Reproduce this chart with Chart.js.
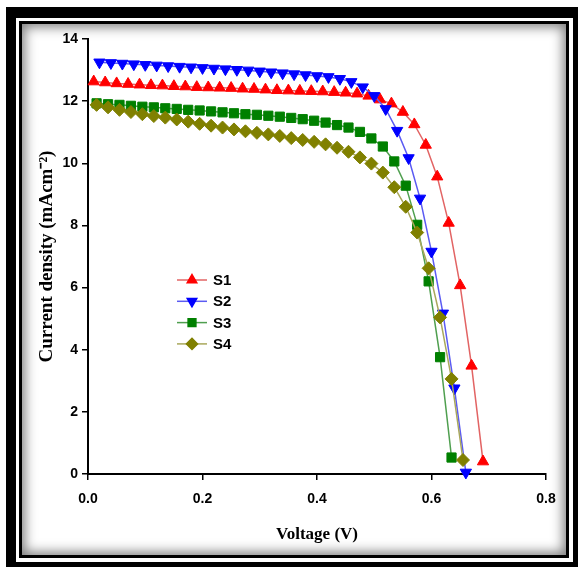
<!DOCTYPE html>
<html>
<head>
<meta charset="utf-8">
<script src="https://cdn.jsdelivr.net/npm/chart.js@4/dist/chart.umd.min.js"></script>
<style>
    html, body { margin: 0; padding: 0; background: #fff; }
    #outer {
        position: absolute; left: 6px; top: 7px; width: 572px; height: 560px;
        box-sizing: border-box; background: #fff;
        border-style: solid; border-color: #000; border-width: 11px 5px 5px 10px;
    }
    #inner {
        position: absolute; left: 3px; top: 3px; right: 4px; bottom: 4px;
        border: 3px solid #000;
        box-shadow: inset 0 0 12px 3px rgba(0, 0, 0, 0.5);
    }
    #chartJV { position: absolute; left: 0; top: 0; }
</style>
</head>
<body>
<div id="outer"><div id="inner"></div></div>
<canvas id="chartJV" width="578" height="567"></canvas>
<script>
// valores (V en voltios, J en mA/cm2)
const nombres = ['S1', 'S2', 'S3', 'S4'];

const s1V = [0.01, 0.03, 0.05, 0.07, 0.09, 0.11, 0.13, 0.15, 0.17, 0.19, 0.21, 0.23, 0.25, 0.27, 0.29, 0.31, 0.33, 0.35,
    0.37, 0.39, 0.41, 0.43, 0.45, 0.47, 0.49, 0.51, 0.53, 0.55, 0.57, 0.59, 0.61, 0.63, 0.65, 0.67, 0.69];
const s1J = [12.63, 12.60, 12.57, 12.55, 12.53, 12.51, 12.50, 12.48, 12.47, 12.45, 12.44, 12.43, 12.42, 12.40, 12.39,
    12.37, 12.35, 12.34, 12.33, 12.32, 12.31, 12.29, 12.27, 12.24, 12.17, 12.05, 11.92, 11.65, 11.25, 10.59, 9.57,
    8.08, 6.07, 3.48, 0.40];

const s2V = [0.02, 0.04, 0.06, 0.08, 0.10, 0.12, 0.14, 0.16, 0.18, 0.20, 0.22, 0.24, 0.26, 0.28, 0.30, 0.32, 0.34,
    0.36, 0.38, 0.40, 0.42, 0.44, 0.46, 0.48, 0.50, 0.52, 0.54, 0.56, 0.58, 0.60, 0.62, 0.64, 0.66];
const s2J = [13.25, 13.23, 13.21, 13.19, 13.17, 13.15, 13.13, 13.11, 13.09, 13.07, 13.05, 13.03, 13.01, 12.99, 12.96,
    12.93, 12.90, 12.87, 12.84, 12.81, 12.78, 12.72, 12.62, 12.45, 12.17, 11.75, 11.05, 10.17, 8.87, 7.16, 5.17,
    2.76, 0.05];

const s3V = [0.015, 0.035, 0.055, 0.075, 0.095, 0.115, 0.135, 0.155, 0.175, 0.195, 0.215, 0.235, 0.255, 0.275, 0.295,
    0.315, 0.335, 0.355, 0.375, 0.395, 0.415, 0.435, 0.455, 0.475, 0.495, 0.515, 0.535, 0.555, 0.575, 0.595, 0.615, 0.635];
const s3J = [11.93, 11.90, 11.88, 11.85, 11.82, 11.80, 11.77, 11.75, 11.72, 11.70, 11.67, 11.64, 11.61, 11.58, 11.56,
    11.53, 11.50, 11.46, 11.42, 11.37, 11.31, 11.23, 11.15, 11.01, 10.80, 10.54, 10.06, 9.28, 8.02, 6.20, 3.76, 0.53];

const s4V = [0.015, 0.035, 0.055, 0.075, 0.095, 0.115, 0.135, 0.155, 0.175, 0.195, 0.215, 0.235, 0.255, 0.275, 0.295,
    0.315, 0.335, 0.355, 0.375, 0.395, 0.415, 0.435, 0.455, 0.475, 0.495, 0.515, 0.535, 0.555, 0.575, 0.595, 0.615,
    0.635, 0.655];
const s4J = [11.88, 11.80, 11.72, 11.65, 11.58, 11.52, 11.47, 11.41, 11.34, 11.27, 11.21, 11.15, 11.09, 11.03, 10.98,
    10.93, 10.88, 10.81, 10.75, 10.69, 10.61, 10.50, 10.37, 10.19, 9.99, 9.70, 9.23, 8.60, 7.77, 6.62, 5.04, 3.06, 0.45];

const ticksX = [0, 0.2, 0.4, 0.6, 0.8];
const ticksY = [0, 2, 4, 6, 8, 10, 12, 14];

const series = [[s1V, s1J], [s2V, s2J], [s3V, s3J], [s4V, s4J]];
const colorLinea = ['#e26464', '#5b5bf2', '#4f9f4f', '#a9a85c'];
const colorPunto = ['#ff0000', '#0000ff', '#008000', '#808000'];
const estilos = ['triangle', 'triangle', 'rect', 'rectRot'];
const rotacion = [0, 180, 0, 0];
const radios = [6.5, 6.5, 6.5, 6.5];

const fuenteTicks = { family: "'Liberation Sans Narrow', 'Liberation Sans', Arial, sans-serif", size: 14, weight: 'bold' };
const fuenteTitulo = { family: "'Liberation Serif', 'Times New Roman', serif", size: 17, weight: 'bold' };
const fuenteTituloY = { family: "'Liberation Serif', 'Times New Roman', serif", size: 19, weight: 'bold' };

// leyenda dentro del area del grafico
const leyendaInterna = {
    id: 'leyendaInterna',
    afterDraw(chart) {
        const ctx = chart.ctx;
        const area = chart.chartArea;
        const x0 = area.left + 89;
        const y0 = area.top + 241;
        ctx.save();
        chart.data.datasets.forEach((ds, i) => {
            const y = y0 + i * 21.3;
            ctx.strokeStyle = ds.borderColor;
            ctx.lineWidth = 1.5;
            ctx.beginPath();
            ctx.moveTo(x0, y);
            ctx.lineTo(x0 + 30, y);
            ctx.stroke();
            ctx.fillStyle = ds.pointBackgroundColor;
            ctx.strokeStyle = ds.pointBorderColor;
            Chart.helpers.drawPoint(ctx, {
                pointStyle: ds.pointStyle,
                rotation: ds.pointRotation,
                radius: 5.5,
                borderWidth: 1
            }, x0 + 15, y);
            ctx.fillStyle = '#000';
            ctx.font = "bold 15px 'Liberation Sans', Arial, sans-serif";
            ctx.textBaseline = 'middle';
            ctx.textAlign = 'left';
            ctx.fillText(ds.label, x0 + 36, y + 1);
        });
        ctx.restore();
    }
};

new Chart(document.getElementById('chartJV'), {
    type: 'line',
    data: {
        datasets: series.map((s, i) => ({
            label: nombres[i],
            data: s[0].map((v, k) => ({ x: v, y: s[1][k] })),
            borderColor: colorLinea[i],
            borderWidth: 1.5,
            pointStyle: estilos[i],
            pointRotation: rotacion[i],
            pointRadius: radios[i],
            pointBackgroundColor: colorPunto[i],
            pointBorderColor: colorPunto[i],
            pointBorderWidth: 1,
            tension: 0,
            clip: false,
            order: 3 - i
        }))
    },
    options: {
        responsive: false,
        animation: false,
        layout: { padding: { left: 30, right: 32, top: 39, bottom: 20 } },
        plugins: {
            legend: { display: false },
            tooltip: { enabled: false }
        },
        scales: {
            x: {
                type: 'linear',
                min: 0,
                max: 0.8,
                afterFit: (scale) => { scale.height = 73; },
                afterBuildTicks: (scale) => { scale.ticks = ticksX.map(v => ({ value: v })); },
                border: { display: true, color: '#000', width: 2 },
                grid: { display: true, drawOnChartArea: false, drawTicks: true, tickLength: 6, color: '#000', lineWidth: 1.5 },
                ticks: {
                    color: '#000',
                    font: fuenteTicks,
                    padding: 11,
                    maxRotation: 0,
                    callback: (v) => Number(v).toFixed(1)
                },
                title: { display: true, text: 'Voltage (V)', color: '#000', font: fuenteTitulo, padding: { top: 0, bottom: 2 } }
            },
            y: {
                type: 'linear',
                min: 0,
                max: 14,
                afterFit: (scale) => { scale.width = 58; },
                afterBuildTicks: (scale) => { scale.ticks = ticksY.map(v => ({ value: v })); },
                border: { display: true, color: '#000', width: 2 },
                grid: { display: true, drawOnChartArea: false, drawTicks: true, tickLength: 6, color: '#000', lineWidth: 1.5 },
                ticks: {
                    color: '#000',
                    font: fuenteTicks,
                    padding: 4
                },
                title: { display: true, text: 'Current density (mAcm\u207B\u00B2)', color: '#000', font: fuenteTituloY, padding: { top: 6, bottom: 0 } }
            }
        }
    },
    plugins: [leyendaInterna]
});
</script>
</body>
</html>
